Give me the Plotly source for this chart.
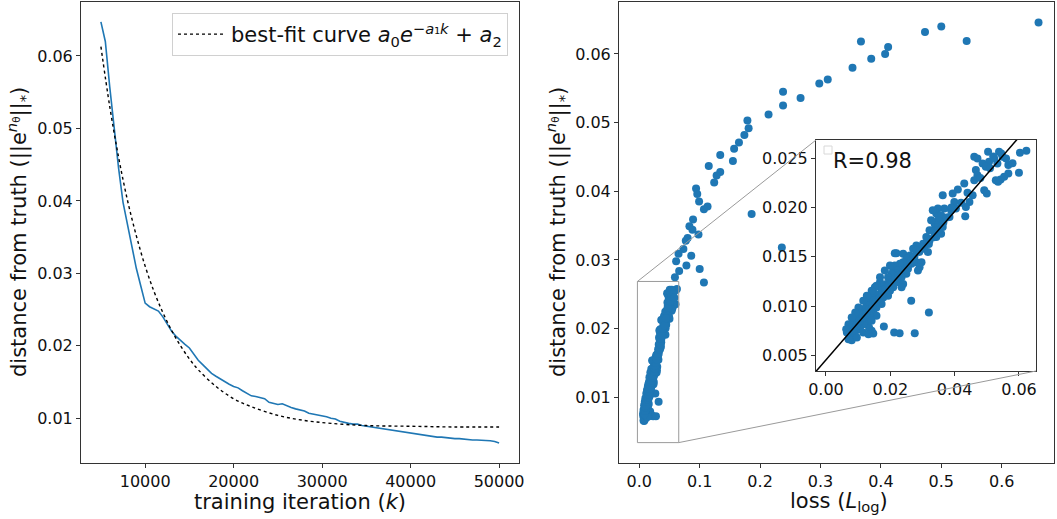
import plotly.graph_objects as go

# ---------------- data ----------------
iters = list(range(5000, 50001, 500))
dist_curve = [
    0.0647, 0.0620, 0.0557, 0.0496, 0.0445, 0.0398, 0.0368, 0.0335, 0.0307, 0.0283, 0.0259,
    0.0254, 0.0251, 0.0248, 0.0240, 0.0230, 0.0220, 0.0213, 0.0207, 0.0202, 0.0197,
    0.0189, 0.0180, 0.0174, 0.0168, 0.0162, 0.0158, 0.0154, 0.0150, 0.0147, 0.0144,
    0.0142, 0.0138, 0.0135, 0.0131, 0.0130, 0.0128, 0.0127, 0.0122, 0.0120, 0.0119,
    0.0120, 0.0117, 0.0115, 0.0113, 0.0112, 0.0110, 0.0107, 0.0106, 0.0105, 0.0104,
    0.0102, 0.0100, 0.0099, 0.0096, 0.0094, 0.0093, 0.0092, 0.0092, 0.0090, 0.0089,
    0.0088, 0.0087, 0.0086, 0.0085, 0.0084, 0.0083, 0.0082, 0.0081, 0.0080, 0.0079,
    0.0078, 0.0077, 0.0077, 0.0076, 0.0075, 0.0074, 0.0074, 0.0073, 0.0073, 0.0072,
    0.0072, 0.0071, 0.0071, 0.0070, 0.0070, 0.0070, 0.0069, 0.0069, 0.0068, 0.0066,
]

fit_iters = [5000, 6000, 7000, 8000, 9000, 10000, 11000, 12000, 13000, 14000, 15000,
             16000, 18000, 20000, 22000, 25000, 28000, 31000, 35000, 40000, 45000, 50000]
fit_vals = [0.0613, 0.0530, 0.0460, 0.0401, 0.0352, 0.0310, 0.0275, 0.0246, 0.0221, 0.0200, 0.0182,
            0.0167, 0.0144, 0.0127, 0.0116, 0.0104, 0.0097, 0.0093, 0.0090, 0.0089, 0.0088, 0.0088]

outer_loss = [0.661, 0.500, 0.473, 0.542, 0.367, 0.412, 0.407, 0.384, 0.353, 0.312,
              0.298, 0.267, 0.238, 0.238, 0.214, 0.179, 0.181, 0.174, 0.165, 0.157,
              0.155, 0.134, 0.115, 0.134, 0.128, 0.124, 0.094, 0.096, 0.099, 0.113,
              0.107, 0.186, 0.089, 0.083, 0.088, 0.098, 0.080, 0.077, 0.236, 0.073,
              0.065, 0.086, 0.078, 0.061, 0.100, 0.066, 0.059, 0.107]
outer_dist = [0.0646, 0.0640, 0.0632, 0.0619, 0.0618, 0.0610, 0.0600, 0.0593, 0.0580, 0.0563,
              0.0557, 0.0536, 0.0545, 0.0525, 0.0512, 0.0503, 0.0492, 0.0482, 0.0471, 0.0462,
              0.0444, 0.0453, 0.0437, 0.0428, 0.0423, 0.0413, 0.0404, 0.0396, 0.0385, 0.0378,
              0.0374, 0.0367, 0.0359, 0.0349, 0.0344, 0.0337, 0.0332, 0.0328, 0.0318, 0.0316,
              0.0309, 0.0306, 0.0292, 0.0298, 0.0287, 0.0284, 0.0275, 0.0267]

cluster_loss = [
    0.0265, 0.0320, 0.0180, 0.0212, 0.0229, 0.0276, 0.0142, 0.0134, 0.0147,
    0.0623, 0.0603, 0.0600, 0.0567, 0.0567, 0.0554, 0.0543, 0.0535, 0.0528, 0.0504,
    0.0538, 0.0549, 0.0461, 0.0471, 0.0487, 0.0507, 0.0497, 0.0523, 0.0533, 0.0466,
    0.0471, 0.0461, 0.0492, 0.0500, 0.0430, 0.0410, 0.0394, 0.0456, 0.0446, 0.0435, 0.0433,
    0.0399, 0.0404, 0.0389, 0.0363, 0.0368, 0.0348, 0.0343, 0.0358, 0.0384, 0.0348,
    0.0338, 0.0332, 0.0348, 0.0363, 0.0358, 0.0343, 0.0322, 0.0312, 0.0302, 0.0291,
    0.0281, 0.0271, 0.0281, 0.0302, 0.0317, 0.0219, 0.0240, 0.0261, 0.0271, 0.0250,
    0.0281, 0.0297, 0.0291, 0.0286, 0.0266, 0.0240, 0.0230, 0.0214, 0.0209, 0.0224,
    0.0240, 0.0255, 0.0250, 0.0235, 0.0219, 0.0204, 0.0193, 0.0199, 0.0214, 0.0224,
    0.0240, 0.0235, 0.0209, 0.0188, 0.0178, 0.0168, 0.0157, 0.0173, 0.0188, 0.0199,
    0.0193, 0.0178, 0.0163, 0.0152, 0.0142, 0.0132, 0.0147, 0.0163, 0.0173, 0.0157,
    0.0142, 0.0127, 0.0116, 0.0132, 0.0147, 0.0157, 0.0137, 0.0116, 0.0106, 0.0096,
    0.0111, 0.0127, 0.0142, 0.0116, 0.0101, 0.0085, 0.0080, 0.0096, 0.0106, 0.0091,
    0.0075, 0.0065, 0.0075, 0.0091, 0.0070, 0.0080, 0.0096, 0.0116, 0.0132,
    0.0332, 0.0327, 0.0322, 0.0312, 0.0214, 0.0199, 0.0183, 0.0168, 0.0152,
    0.0142, 0.0127, 0.0116, 0.0101, 0.0091, 0.0080, 0.0070, 0.0063,
]
cluster_dist = [
    0.01054, 0.00935, 0.00793, 0.00731, 0.00724, 0.00724, 0.00748, 0.00782, 0.00721,
    0.02578, 0.02558, 0.02354, 0.02432, 0.02347, 0.02313, 0.02286, 0.02262, 0.02279, 0.02568,
    0.02568, 0.02517, 0.02517, 0.02500, 0.02449, 0.02466, 0.02415, 0.02500, 0.02449, 0.02381,
    0.02330, 0.02279, 0.02177, 0.02143, 0.02245, 0.02184, 0.02143, 0.02126, 0.02058, 0.02007, 0.01912,
    0.02058, 0.01990, 0.01973, 0.02126, 0.01990, 0.01990, 0.01939, 0.01922, 0.01905, 0.01871,
    0.01837, 0.01769, 0.01803, 0.01803, 0.01735, 0.01701, 0.01667, 0.01633, 0.01633, 0.01599,
    0.01616, 0.01582, 0.01565, 0.01582, 0.01548, 0.01537, 0.01531, 0.01514, 0.01497, 0.01480,
    0.01446, 0.01446, 0.01395, 0.01361, 0.01429, 0.01446, 0.01429, 0.01412, 0.01378, 0.01361,
    0.01361, 0.01378, 0.01327, 0.01293, 0.01327, 0.01327, 0.01293, 0.01259, 0.01259, 0.01241,
    0.01224, 0.01190, 0.01190, 0.01224, 0.01190, 0.01241, 0.01207, 0.01156, 0.01139, 0.01156,
    0.01105, 0.01088, 0.01105, 0.01122, 0.01088, 0.01071, 0.01054, 0.01037, 0.01020, 0.00986,
    0.01003, 0.01003, 0.00969, 0.00952, 0.00935, 0.00901, 0.00901, 0.00901, 0.00918, 0.00884,
    0.00867, 0.00850, 0.00850, 0.00816, 0.00833, 0.00833, 0.00799, 0.00782, 0.00765, 0.00748,
    0.00748, 0.00731, 0.00697, 0.00697, 0.00663, 0.00653, 0.00680, 0.00731, 0.00714,
    0.01973, 0.01871, 0.01769, 0.01701, 0.01537, 0.01412, 0.01361, 0.01293, 0.01190,
    0.01156, 0.01105, 0.01054, 0.00986, 0.00935, 0.00884, 0.00816, 0.00765,
]
band_loss = [0.0085, 0.0095, 0.0105, 0.0115, 0.0125, 0.0135, 0.0145, 0.0155, 0.0165, 0.0175,
             0.0185, 0.0195, 0.0205, 0.0215, 0.0225, 0.0245, 0.0255, 0.0265, 0.0275, 0.0290,
             0.0305, 0.0320, 0.0335, 0.0350, 0.0365, 0.0375, 0.0390, 0.0420, 0.0440, 0.0480,
             0.0510, 0.0520, 0.0545, 0.0560, 0.0580]
band_dist = [0.0075, 0.0080, 0.0085, 0.0088, 0.0093, 0.0097, 0.0100, 0.0104, 0.0108, 0.0112,
             0.0117, 0.0121, 0.0124, 0.0128, 0.0131, 0.0137, 0.0142, 0.0146, 0.0150, 0.0155,
             0.0160, 0.0163, 0.0170, 0.0177, 0.0185, 0.0190, 0.0200, 0.0205, 0.0215, 0.0230,
             0.0240, 0.0252, 0.0255, 0.0250, 0.0245]
assert len(cluster_loss) == len(cluster_dist)
assert len(band_loss) == len(band_dist)
assert len(outer_loss) == len(outer_dist)
assert len(iters) == len(dist_curve)

fit_slope = 0.377
fit_intercept = 0.00453
r_text = "R=0.98"

left_xticks = [10000, 20000, 30000, 40000, 50000]
left_xtext = ["10000", "20000", "30000", "40000", "50000"]
dist_ticks = [0.01, 0.02, 0.03, 0.04, 0.05, 0.06]
dist_text = ["0.01", "0.02", "0.03", "0.04", "0.05", "0.06"]
loss_ticks = [0.0, 0.1, 0.2, 0.3, 0.4, 0.5, 0.6]
loss_text = ["0.0", "0.1", "0.2", "0.3", "0.4", "0.5", "0.6"]
inset_xticks = [0.00, 0.02, 0.04, 0.06]
inset_xtext = ["0.00", "0.02", "0.04", "0.06"]
inset_yticks = [0.005, 0.010, 0.015, 0.020, 0.025]
inset_ytext = ["0.005", "0.010", "0.015", "0.020", "0.025"]

# ---------------- layout geometry ----------------
W, H = 1057, 519
BLUE = "#1f77b4"
FONT = "DejaVu Sans"
TXT = "#111111"

def dx(p):
    return p / W

def dy(p):
    return 1 - p / H

left_dom_x = [dx(81), dx(519)]
right_dom_x = [dx(619), dx(1054)]
main_dom_y = [dy(463), dy(2)]
inset_dom_x = [dx(816), dx(1036)]
inset_dom_y = [dy(371), dy(140)]

left_xr = [2750, 52250]
left_yr = [0.00383, 0.06745]
right_xr = [-0.0336, 0.6866]
right_yr = [0.00043, 0.06757]
inset_xr = [-0.0031, 0.0653]
inset_yr = [0.0034, 0.02687]

all_loss = outer_loss + cluster_loss + band_loss
all_dist = outer_dist + cluster_dist + band_dist

fig = go.Figure()

fig.add_trace(go.Scatter(x=iters, y=dist_curve, mode="lines",
                         line=dict(color=BLUE, width=1.6), showlegend=False,
                         xaxis="x", yaxis="y"))
fig.add_trace(go.Scatter(x=fit_iters, y=fit_vals, mode="lines",
                         line=dict(color="black", width=1.4, dash="dot", shape="spline"),
                         name="best-fit curve <i>a</i><sub>0</sub><i>e</i><sup>−<i>a</i>₁<i>k</i></sup> + <i>a</i><sub>2</sub>",
                         showlegend=True, xaxis="x", yaxis="y"))

fig.add_trace(go.Scatter(x=all_loss, y=all_dist, mode="markers",
                         marker=dict(color=BLUE, size=8), showlegend=False,
                         xaxis="x2", yaxis="y2"))

fig.add_trace(go.Scatter(x=all_loss, y=all_dist, mode="markers",
                         marker=dict(color=BLUE, size=8), showlegend=False,
                         xaxis="x3", yaxis="y3"))
line_x = [inset_xr[0] - 0.01, inset_xr[1] + 0.01]
line_y = [fit_slope * v + fit_intercept for v in line_x]
fig.add_trace(go.Scatter(x=line_x, y=line_y, mode="lines",
                         line=dict(color="black", width=1.5), showlegend=False,
                         xaxis="x3", yaxis="y3"))

axis_common = dict(showgrid=False, zeroline=False, showline=True, linecolor="#333333",
                   linewidth=1, mirror=True, ticks="outside", ticklen=4, tickwidth=1,
                   tickcolor="#333333", tickfont=dict(family=FONT, size=16, color=TXT),
                   automargin=False)

fig.update_layout(
    width=W, height=H, margin=dict(l=0, r=0, t=0, b=0),
    paper_bgcolor="white", plot_bgcolor="white",
    font=dict(family=FONT, color=TXT),
    xaxis=dict(domain=left_dom_x, range=left_xr, tickvals=left_xticks, ticktext=left_xtext,
               anchor="y", **axis_common),
    yaxis=dict(domain=main_dom_y, range=left_yr, tickvals=dist_ticks, ticktext=dist_text,
               anchor="x", **axis_common),
    xaxis2=dict(domain=right_dom_x, range=right_xr, tickvals=loss_ticks, ticktext=loss_text,
                anchor="y2", **axis_common),
    yaxis2=dict(domain=main_dom_y, range=right_yr, tickvals=dist_ticks, ticktext=dist_text,
                anchor="x2", **axis_common),
    xaxis3=dict(domain=inset_dom_x, range=inset_xr, tickvals=inset_xticks, ticktext=inset_xtext,
                anchor="y3", **axis_common),
    yaxis3=dict(domain=inset_dom_y, range=inset_yr, tickvals=inset_yticks, ticktext=inset_ytext,
                anchor="x3", **axis_common),
    legend=dict(x=dx(508), y=dy(13), xanchor="right", yanchor="top", itemwidth=48,
                bordercolor="#d0d0d0", borderwidth=1, bgcolor="rgba(255,255,255,0.8)",
                font=dict(family=FONT, size=21, color=TXT)),
)

def to_paper(v, r, dom):
    return dom[0] + (v - r[0]) / (r[1] - r[0]) * (dom[1] - dom[0])

GRAY = "#9a9a9a"
shapes = []
shapes.append(dict(type="rect", xref="x2", yref="y2", x0=inset_xr[0], x1=inset_xr[1],
                   y0=inset_yr[0], y1=inset_yr[1], line=dict(color=GRAY, width=1),
                   layer="above"))
rx0 = to_paper(inset_xr[0], right_xr, right_dom_x)
rx1 = to_paper(inset_xr[1], right_xr, right_dom_x)
ry0 = to_paper(inset_yr[0], right_yr, main_dom_y)
ry1 = to_paper(inset_yr[1], right_yr, main_dom_y)
shapes.append(dict(type="line", xref="paper", yref="paper", x0=rx0, y0=ry1,
                   x1=inset_dom_x[0], y1=inset_dom_y[1], line=dict(color=GRAY, width=1)))
shapes.append(dict(type="line", xref="paper", yref="paper", x0=rx1, y0=ry0,
                   x1=inset_dom_x[1], y1=inset_dom_y[0], line=dict(color=GRAY, width=1)))
shapes.append(dict(type="rect", xref="paper", yref="paper", x0=dx(824), x1=dx(832),
                   y0=dy(154), y1=dy(146), line=dict(color="#d8d8d8", width=1),
                   fillcolor="white"))
fig.update_layout(shapes=shapes)

ylab = "distance from truth (||e<sup><i>n</i><sub>θ</sub></sup>||<sub>*</sub>)"
lab_font = dict(family=FONT, size=21, color=TXT)
annotations = [
    dict(text=ylab, x=dx(18), y=dy(232), xref="paper", yref="paper", textangle=-90,
         xanchor="center", yanchor="middle", showarrow=False, font=lab_font),
    dict(text=ylab, x=dx(557), y=dy(232), xref="paper", yref="paper", textangle=-90,
         xanchor="center", yanchor="middle", showarrow=False, font=lab_font),
    dict(text="training iteration (<i>k</i>)", x=dx(300), y=dy(502), xref="paper", yref="paper",
         xanchor="center", yanchor="middle", showarrow=False, font=lab_font),
    dict(text="loss (<i>L</i><sub>log</sub>)", x=dx(839), y=dy(502), xref="paper", yref="paper",
         xanchor="center", yanchor="middle", showarrow=False, font=lab_font),
    dict(text=r_text, x=dx(831), y=dy(161), xref="paper", yref="paper", xanchor="left",
         yanchor="middle", showarrow=False, font=dict(family=FONT, size=21, color=TXT)),
]
fig.update_layout(annotations=annotations)

fig.write_html("out.html")
